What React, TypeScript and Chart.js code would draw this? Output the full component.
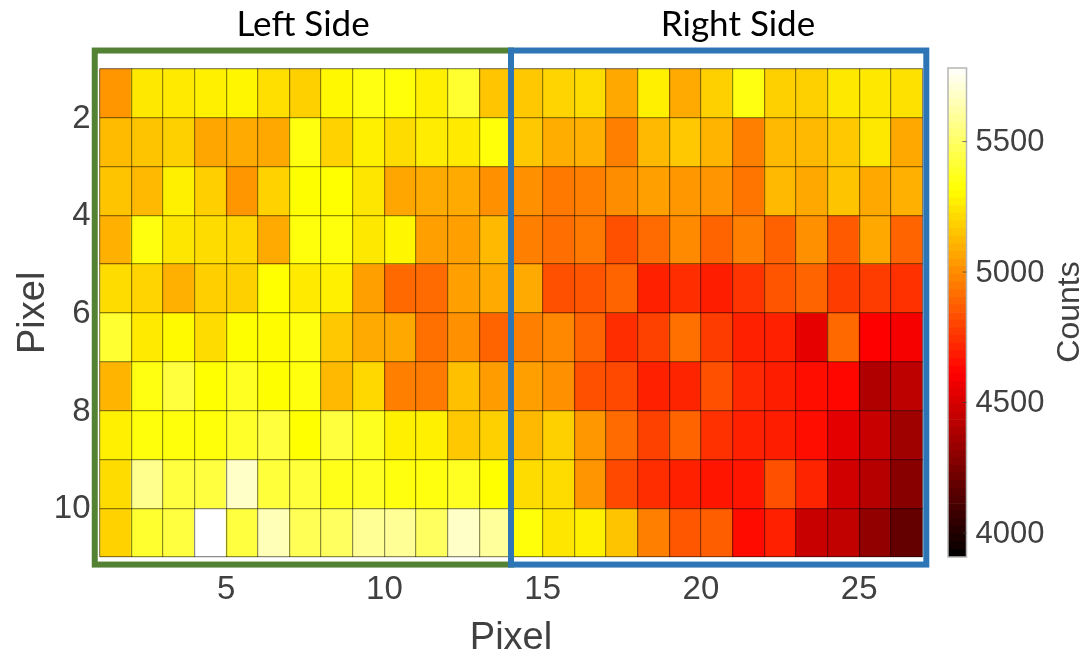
import React, { useEffect, useRef } from "react";
import { Chart, registerables } from "chart.js";

Chart.register(...registerables);

const row1 = [5025, 5250, 5255, 5273, 5290, 5225, 5185, 5295, 5345, 5330, 5270, 5400, 5155, 5163, 5195, 5218, 5075, 5273, 5080, 5185, 5345, 5185, 5183, 5250, 5250, 5230];
const row2 = [5125, 5150, 5183, 5068, 5080, 5075, 5340, 5190, 5273, 5218, 5260, 5255, 5330, 5163, 5090, 5095, 4964, 5120, 5163, 5108, 4964, 5120, 5120, 5163, 5250, 5075];
const row3 = [5150, 5120, 5273, 5180, 5025, 5190, 5310, 5313, 5245, 5068, 5080, 5080, 5008, 5008, 4945, 4964, 4998, 5050, 5030, 5020, 4932, 5120, 5075, 5150, 5075, 5095];
const row4 = [5095, 5340, 5245, 5218, 5205, 5080, 5335, 5335, 5250, 5290, 5050, 5050, 5120, 4964, 4915, 4945, 4830, 4907, 4990, 4887, 4964, 4875, 5008, 4860, 5075, 4887];
const row5 = [5218, 5195, 5095, 5180, 5185, 5313, 5255, 5273, 5050, 4900, 4907, 5050, 5080, 5080, 4830, 4845, 4887, 4700, 4735, 4690, 4755, 4845, 4887, 4775, 4775, 4745];
const row6 = [5405, 5255, 5300, 5218, 5310, 5305, 5340, 5163, 5080, 5075, 4920, 5008, 4887, 4964, 4985, 4887, 4735, 4790, 4920, 4775, 4700, 4700, 4542, 4900, 4611, 4585];
const row7 = [5108, 5345, 5425, 5315, 5375, 5310, 5340, 5120, 5205, 4964, 4950, 5140, 5040, 5050, 5008, 4830, 4810, 4700, 4710, 4830, 4720, 4690, 4650, 4630, 4395, 4430];
const row8 = [5270, 5335, 5335, 5330, 5390, 5425, 5313, 5425, 5370, 5273, 5273, 5163, 5185, 5120, 5185, 5030, 4907, 4790, 4887, 4745, 4700, 4690, 4650, 4540, 4459, 4345];
const row9 = [5218, 5575, 5430, 5430, 5680, 5420, 5420, 5360, 5375, 5340, 5340, 5375, 5313, 5218, 5218, 5020, 4810, 4735, 4700, 4670, 4670, 4830, 4710, 4480, 4410, 4285];
const row10 = [5190, 5400, 5430, 5782, 5430, 5650, 5470, 5490, 5590, 5590, 5490, 5680, 5600, 5330, 5245, 5273, 5150, 4964, 4850, 4870, 4640, 4700, 4459, 4440, 4310, 4184];
const rows = [row1, row2, row3, row4, row5, row6, row7, row8, row9, row10];

const xLabels = [5, 10, 15, 20, 25];
const yLabels = [2, 4, 6, 8, 10];
const cbarTicks = [4000, 4500, 5000, 5500];
const cMin = 3908;
const cMax = 5782;
const cLevels = 64;

const TEXT = "#404040";
const SANS = "'Liberation Sans', Arial, sans-serif";

function hot(v: number): string {
  const t = Math.max(0, Math.min(1, (v - cMin) / (cMax - cMin)));
  const r = Math.min(1, t / 0.375);
  const g = Math.max(0, Math.min(1, (t - 0.375) / 0.375));
  const b = Math.max(0, (t - 0.75) / 0.25);
  return `rgb(${Math.round(r * 255)},${Math.round(g * 255)},${Math.round(b * 255)})`;
}

export default function App() {
  const mainRef = useRef<HTMLCanvasElement | null>(null);
  const barRef = useRef<HTMLCanvasElement | null>(null);

  useEffect(() => {
    const framePlugin = {
      id: "frames",
      afterDraw(chart: any) {
        const { ctx, scales } = chart;
        const px = (v: number) => scales.x.getPixelForValue(v);
        const py = (v: number) => scales.y.getPixelForValue(v);
        const top = py(0.63);
        const bottom = py(11.155);
        ctx.save();
        ctx.lineWidth = 6;
        ctx.strokeStyle = "#548235";
        ctx.strokeRect(px(0.85), top, px(14) - px(0.85), bottom - top);
        ctx.strokeStyle = "#2E75B6";
        ctx.strokeRect(px(14), top, px(27.12) - px(14), bottom - top);
        ctx.fillStyle = "#000";
        ctx.font = "35px Lato, sans-serif";
        ctx.textAlign = "center";
        ctx.textBaseline = "alphabetic";
        ctx.fillText("Left Side", 303, 36);
        ctx.fillText("Right Side", 738, 36);
        ctx.restore();
      },
    };

    const main = new Chart(mainRef.current as HTMLCanvasElement, {
      type: "bar",
      data: {
        datasets: rows.map((row, r) => ({
          data: row.map((v, c) => ({ x: c + 1.5, y: [r + 1, r + 2] })) as any,
          backgroundColor: row.map(hot),
          borderWidth: 0,
          grouped: false,
          barPercentage: 1,
          categoryPercentage: 1,
        })),
      },
      options: {
        responsive: false,
        animation: false,
        layout: { padding: { top: 68.6, right: 166.5, left: 0, bottom: 0 } },
        plugins: { legend: { display: false }, tooltip: { enabled: false } },
        scales: {
          x: {
            type: "linear",
            min: 1,
            max: 27,
            offset: false,
            grid: { z: 1, color: "rgba(0,0,0,0.45)", lineWidth: 1.2, drawTicks: false, offset: false },
            border: { display: false },
            ticks: {
              stepSize: 1,
              autoSkip: false,
              maxRotation: 0,
              padding: 13,
              color: TEXT,
              font: { family: SANS, size: 33 },
              callback: (v: any) => (xLabels.includes(v) ? String(v) : ""),
            },
            title: {
              display: true,
              text: "Pixel",
              color: TEXT,
              font: { family: SANS, size: 38 },
              padding: { top: 0, bottom: -3 },
            },
            afterFit: (s: any) => {
              s.height = 101;
            },
          },
          y: {
            type: "linear",
            min: 1,
            max: 11,
            reverse: true,
            grid: { z: 1, color: "rgba(0,0,0,0.45)", lineWidth: 1.2, drawTicks: false },
            border: { display: false },
            ticks: {
              stepSize: 1,
              autoSkip: false,
              padding: 9,
              labelOffset: 1,
              color: TEXT,
              font: { family: SANS, size: 33 },
              callback: (v: any) => (yLabels.includes(v) ? String(v) : ""),
            },
            title: {
              display: true,
              text: "Pixel",
              color: TEXT,
              font: { family: SANS, size: 38 },
              padding: { top: 11, bottom: 0 },
            },
            afterFit: (s: any) => {
              s.width = 99.5;
            },
          },
        },
      } as any,
      plugins: [framePlugin],
    });

    const cbarPlugin = {
      id: "cbar",
      afterDraw(chart: any) {
        const { ctx, chartArea: a, scales } = chart;
        ctx.save();
        ctx.strokeStyle = "#b5b5b5";
        ctx.lineWidth = 1.5;
        ctx.strokeRect(a.left, a.top, a.right - a.left, a.bottom - a.top);
        ctx.strokeStyle = "rgba(60,60,60,0.7)";
        ctx.lineWidth = 1;
        cbarTicks.forEach((t) => {
          const y = scales.y.getPixelForValue(t);
          ctx.beginPath();
          ctx.moveTo(a.right - 4, y);
          ctx.lineTo(a.right, y);
          ctx.stroke();
        });
        ctx.translate(140, 312);
        ctx.rotate(-Math.PI / 2);
        ctx.fillStyle = TEXT;
        ctx.font = `32px ${SANS}`;
        ctx.textAlign = "center";
        ctx.textBaseline = "middle";
        ctx.fillText("Counts", 0, 0);
        ctx.restore();
      },
    };

    const step = (cMax - cMin) / cLevels;
    const levels = Array.from({ length: cLevels }, (_, i) => cMin + i * step);
    const cbar = new Chart(barRef.current as HTMLCanvasElement, {
      type: "bar",
      data: {
        labels: [""],
        datasets: levels.map((lo) => ({
          data: [[lo, lo + step]] as any,
          backgroundColor: hot(lo + step / 2),
          borderWidth: 0,
          grouped: false,
          barPercentage: 1,
          categoryPercentage: 1,
        })),
      },
      options: {
        responsive: false,
        animation: false,
        layout: { padding: { top: 68, bottom: 101, left: 18, right: 0 } },
        plugins: { legend: { display: false }, tooltip: { enabled: false } },
        scales: {
          x: { display: false },
          y: {
            position: "right",
            min: cMin,
            max: cMax,
            grid: { display: false, drawTicks: false },
            border: { display: false },
            ticks: {
              padding: 9,
              labelOffset: 1,
              color: TEXT,
              font: { family: SANS, size: 31 },
              callback: (v: any) => String(v),
            },
            afterBuildTicks: (s: any) => {
              s.ticks = cbarTicks.map((value) => ({ value }));
            },
            afterFit: (s: any) => {
              s.width = 122.5;
            },
          },
        },
      } as any,
      plugins: [cbarPlugin],
    });

    return () => {
      main.destroy();
      cbar.destroy();
    };
  }, []);

  return (
    <div style={{ position: "absolute", left: 0, top: 0, width: 1089, height: 658, background: "#fff" }}>
      <canvas ref={mainRef} width={1089} height={658} style={{ position: "absolute", left: 0, top: 0 }} />
      <canvas ref={barRef} width={159} height={658} style={{ position: "absolute", left: 930, top: 0 }} />
    </div>
  );
}
